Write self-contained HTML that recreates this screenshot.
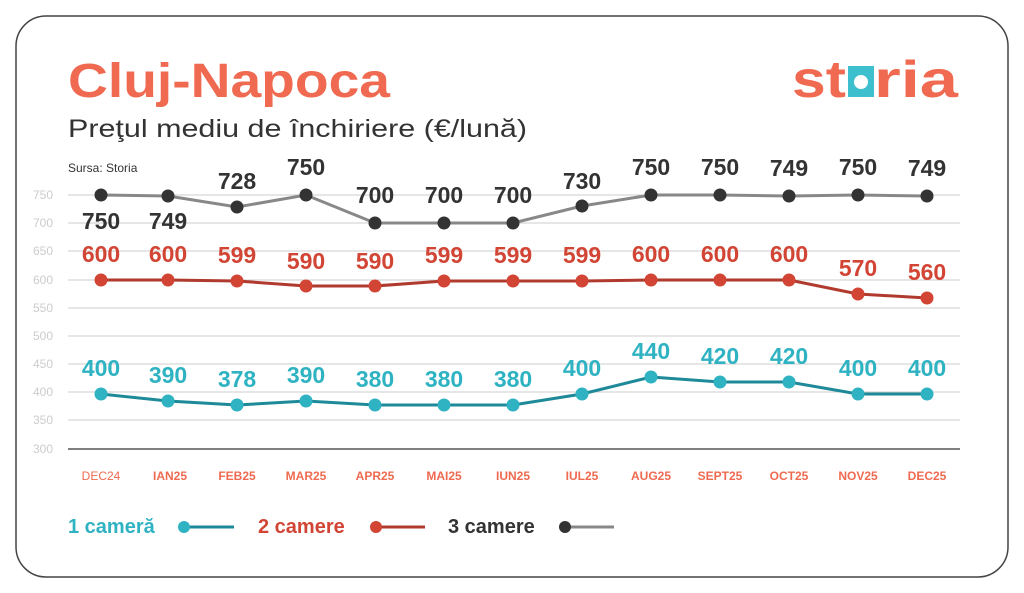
<!DOCTYPE html>
<html><head><meta charset="utf-8"><style>
body{margin:0;background:#fff;}
svg{display:block;font-family:"Liberation Sans","DejaVu Sans",sans-serif;}
</style></head><body>
<svg width="1024" height="593" viewBox="0 0 1024 593" xmlns="http://www.w3.org/2000/svg">
<rect x="16" y="16" width="992" height="561" rx="30" fill="#fff" stroke="#444" stroke-width="1.5"/>
<text x="68" y="97" font-size="48" font-weight="bold" fill="#ef6a50" textLength="322" lengthAdjust="spacingAndGlyphs">Cluj-Napoca</text>
<text x="68" y="137" font-size="25" fill="#333" textLength="459" lengthAdjust="spacingAndGlyphs">Preţul mediu de închiriere (€/lună)</text>
<text x="68" y="172" font-size="12" fill="#333">Sursa: Storia</text>
<g font-size="52" font-weight="bold" fill="#ef6a50">
<text x="792" y="97" textLength="54" lengthAdjust="spacingAndGlyphs">st</text>
<rect x="848" y="66" width="26" height="31" fill="#3dbfce"/>
<circle cx="861" cy="82" r="7" fill="#fff"/>
<text x="874" y="97" textLength="84" lengthAdjust="spacingAndGlyphs">ria</text>
</g>
<g stroke="#ccc" stroke-width="1">
<line x1="68" x2="960" y1="195" y2="195"/><line x1="68" x2="960" y1="223" y2="223"/>
<line x1="68" x2="960" y1="251" y2="251"/><line x1="68" x2="960" y1="280" y2="280"/>
<line x1="68" x2="960" y1="308" y2="308"/><line x1="68" x2="960" y1="336" y2="336"/>
<line x1="68" x2="960" y1="364" y2="364"/><line x1="68" x2="960" y1="392" y2="392"/>
<line x1="68" x2="960" y1="420" y2="420"/>
</g>
<line x1="68" x2="960" y1="449" y2="449" stroke="#333" stroke-width="1.2"/>
<g font-size="12" fill="#ccc">
<text x="33" y="199">750</text><text x="33" y="227">700</text><text x="33" y="255">650</text>
<text x="33" y="284">600</text><text x="33" y="312">550</text><text x="33" y="340">500</text>
<text x="33" y="368">450</text><text x="33" y="396">400</text><text x="33" y="424">350</text>
<text x="33" y="453">300</text>
</g>
<g font-size="12" font-weight="bold" fill="#ef6a50" text-anchor="middle">
<text x="101" y="480" font-weight="normal">DEC24</text><text x="170" y="480">IAN25</text><text x="237" y="480">FEB25</text>
<text x="306" y="480">MAR25</text><text x="375" y="480">APR25</text><text x="444" y="480">MAI25</text>
<text x="513" y="480">IUN25</text><text x="582" y="480">IUL25</text><text x="651" y="480">AUG25</text>
<text x="720" y="480">SEPT25</text><text x="789" y="480">OCT25</text><text x="858" y="480">NOV25</text>
<text x="927" y="480">DEC25</text>
</g>
<polyline fill="none" stroke="#888" stroke-width="3" points="101,195 168,196 237,207 306,195 375,223 444,223 513,223 582,206 651,195 720,195 789,196 858,195 927,196"/>
<g fill="#333"><circle cx="101" cy="195" r="6.5"/><circle cx="168" cy="196" r="6.5"/><circle cx="237" cy="207" r="6.5"/><circle cx="306" cy="195" r="6.5"/><circle cx="375" cy="223" r="6.5"/><circle cx="444" cy="223" r="6.5"/><circle cx="513" cy="223" r="6.5"/><circle cx="582" cy="206" r="6.5"/><circle cx="651" cy="195" r="6.5"/><circle cx="720" cy="195" r="6.5"/><circle cx="789" cy="196" r="6.5"/><circle cx="858" cy="195" r="6.5"/><circle cx="927" cy="196" r="6.5"/></g>
<g font-size="23" font-weight="bold" fill="#333" text-anchor="middle">
<text x="101" y="229">750</text><text x="168" y="229">749</text><text x="237" y="189">728</text><text x="306" y="175">750</text>
<text x="375" y="203">700</text><text x="444" y="203">700</text><text x="513" y="203">700</text><text x="582" y="189">730</text>
<text x="651" y="175">750</text><text x="720" y="175">750</text><text x="789" y="176">749</text><text x="858" y="175">750</text><text x="927" y="176">749</text>
</g>
<polyline fill="none" stroke="#b03a2e" stroke-width="3" points="101,280 168,280 237,281 306,286 375,286 444,281 513,281 582,281 651,280 720,280 789,280 858,294 927,298"/>
<g fill="#d24535"><circle cx="101" cy="280" r="6.5"/><circle cx="168" cy="280" r="6.5"/><circle cx="237" cy="281" r="6.5"/><circle cx="306" cy="286" r="6.5"/><circle cx="375" cy="286" r="6.5"/><circle cx="444" cy="281" r="6.5"/><circle cx="513" cy="281" r="6.5"/><circle cx="582" cy="281" r="6.5"/><circle cx="651" cy="280" r="6.5"/><circle cx="720" cy="280" r="6.5"/><circle cx="789" cy="280" r="6.5"/><circle cx="858" cy="294" r="6.5"/><circle cx="927" cy="298" r="6.5"/></g>
<g font-size="23" font-weight="bold" fill="#d24535" text-anchor="middle">
<text x="101" y="262">600</text><text x="168" y="262">600</text><text x="237" y="263">599</text><text x="306" y="269">590</text>
<text x="375" y="269">590</text><text x="444" y="263">599</text><text x="513" y="263">599</text><text x="582" y="263">599</text>
<text x="651" y="262">600</text><text x="720" y="262">600</text><text x="789" y="262">600</text><text x="858" y="276">570</text><text x="927" y="280">560</text>
</g>
<polyline fill="none" stroke="#1e8a99" stroke-width="3" points="101,394 168,401 237,405 306,401 375,405 444,405 513,405 582,394 651,377 720,382 789,382 858,394 927,394"/>
<g fill="#2fb3c3"><circle cx="101" cy="394" r="6.5"/><circle cx="168" cy="401" r="6.5"/><circle cx="237" cy="405" r="6.5"/><circle cx="306" cy="401" r="6.5"/><circle cx="375" cy="405" r="6.5"/><circle cx="444" cy="405" r="6.5"/><circle cx="513" cy="405" r="6.5"/><circle cx="582" cy="394" r="6.5"/><circle cx="651" cy="377" r="6.5"/><circle cx="720" cy="382" r="6.5"/><circle cx="789" cy="382" r="6.5"/><circle cx="858" cy="394" r="6.5"/><circle cx="927" cy="394" r="6.5"/></g>
<g font-size="23" font-weight="bold" fill="#2fb3c3" text-anchor="middle">
<text x="101" y="376">400</text><text x="168" y="383">390</text><text x="237" y="387">378</text><text x="306" y="383">390</text>
<text x="375" y="387">380</text><text x="444" y="387">380</text><text x="513" y="387">380</text><text x="582" y="376">400</text>
<text x="651" y="359">440</text><text x="720" y="364">420</text><text x="789" y="364">420</text><text x="858" y="376">400</text><text x="927" y="376">400</text>
</g>
<g font-size="20" font-weight="bold">
<text x="68" y="533" fill="#2fb3c3">1 cameră</text>
<line x1="184" x2="234" y1="527" y2="527" stroke="#1e8a99" stroke-width="3"/><circle cx="184" cy="527" r="6" fill="#2fb3c3"/>
<text x="258" y="533" fill="#d24535">2 camere</text>
<line x1="376" x2="425" y1="527" y2="527" stroke="#b03a2e" stroke-width="3"/><circle cx="376" cy="527" r="6" fill="#d24535"/>
<text x="448" y="533" fill="#333">3 camere</text>
<line x1="565" x2="614" y1="527" y2="527" stroke="#888" stroke-width="3"/><circle cx="565" cy="527" r="6" fill="#333"/>
</g>
</svg>
</body></html>
